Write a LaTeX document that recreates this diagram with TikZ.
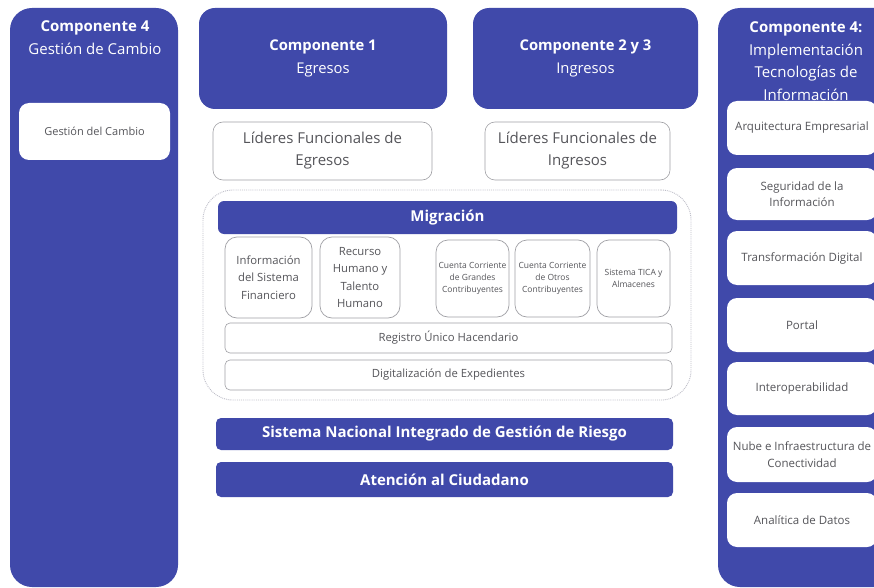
\documentclass[tikz,border=0pt]{standalone}
\usepackage{fontspec}
\setmainfont{Open Sans}
\definecolor{cblue}{RGB}{64,73,170}
\definecolor{ctext}{RGB}{85,85,90}
\definecolor{cborder}{RGB}{160,160,165}
\definecolor{cdash}{RGB}{190,190,200}
\begin{document}
\begin{tikzpicture}[x=1pt,y=-1pt,
  every node/.style={inner sep=0pt,outer sep=0pt,align=center},
  column/.style={fill=cblue,rounded corners=22pt},
  compbox/.style={fill=cblue,rounded corners=16pt,text=white,font=\fontsize{14.8}{23}\selectfont},
  colitem/.style={fill=white,rounded corners=10pt,text=ctext,font=\fontsize{11.5}{16.5}\selectfont},
  lider/.style={draw=cborder,line width=0.6pt,fill=white,rounded corners=10pt,text=ctext,font=\fontsize{15}{22}\selectfont},
  smallbox/.style={draw=cborder,line width=0.7pt,fill=white,rounded corners=12pt,text=ctext},
  wbar/.style={draw=cborder,line width=0.6pt,fill=white,rounded corners=5pt,text=ctext,font=\fontsize{11.3}{14}\selectfont},
  bbar/.style={fill=cblue,rounded corners=5pt,text=white,font=\bfseries\fontsize{15}{18}\selectfont},
  coltitle/.style={text=white,font=\fontsize{15}{22.5}\selectfont}]
\useasboundingbox (0,0) rectangle (874,588);
\fill[white] (0,0) rectangle (874,588);

% left column
\node[column,minimum width=168pt,minimum height=579pt] (colL) at (94,297.5) {};
\node[coltitle] (colLt) at (95,37.5) {\textbf{Componente 4}\\Gestión de Cambio};
\node[colitem,font=\fontsize{11}{16}\selectfont,minimum width=151pt,minimum height=57pt] (gdc) at (94.5,131.5) {Gestión del Cambio};

% right column
\node[column,minimum width=182pt,minimum height=579pt] (colR) at (809,297.5) {};
\node[coltitle] (colRt) at (806,61) {\textbf{Componente 4:}\\Implementación\\Tecnologías de\\Información};
\node[colitem,minimum width=150pt,minimum height=54pt] (arq) at (802,128) {Arquitectura Empresarial};
\node[colitem,minimum width=150pt,minimum height=52pt] (seg) at (802,194) {Seguridad de la\\Información};
\node[colitem,minimum width=150pt,minimum height=54pt] (tra) at (802,258) {Transformación Digital};
\node[colitem,minimum width=150pt,minimum height=54pt] (por) at (802,325) {Portal};
\node[colitem,minimum width=150pt,minimum height=53pt] (int) at (802,388.5) {Interoperabilidad};
\node[colitem,minimum width=150pt,minimum height=55pt] (nub) at (802,454.5) {Nube e Infraestructura de\\Conectividad};
\node[colitem,minimum width=150pt,minimum height=54pt] (ana) at (802,520) {Analítica de Datos};

% components
\node[compbox,minimum width=248pt,minimum height=101pt] (c1) at (323,58.5) {\textbf{Componente 1}\\Egresos};
\node[compbox,minimum width=225pt,minimum height=101pt] (c23) at (585.5,58.5) {\textbf{Componente 2 y 3}\\Ingresos};
\node[lider,minimum width=219pt,minimum height=58pt] (lidE) at (322.5,151) {Líderes Funcionales de\\Egresos};
\node[lider,minimum width=185pt,minimum height=58pt] (lidI) at (577.5,151) {Líderes Funcionales de\\Ingresos};

% migration region
\node[draw=cdash,densely dotted,line width=0.9pt,rounded corners=30pt,minimum width=488pt,minimum height=210pt] (reg0) at (447,295) {};
\node[bbar,rounded corners=6pt,minimum width=459pt,minimum height=33pt] (mig) at (447.5,217.5) {Migración};
\node[smallbox,minimum width=87pt,minimum height=81pt,font=\fontsize{11.3}{17.5}\selectfont] (inf) at (268.5,277.5) {Información\\del Sistema\\Financiero};
\node[smallbox,minimum width=80pt,minimum height=81pt,font=\fontsize{11.3}{17.5}\selectfont] (rec) at (360,277.5) {Recurso\\Humano y\\Talento\\Humano};
\node[smallbox,minimum width=73pt,minimum height=77pt,font=\fontsize{8.5}{11.7}\selectfont] (ccg) at (472.5,278.5) {Cuenta Corriente\\de Grandes\\Contribuyentes};
\node[smallbox,minimum width=75pt,minimum height=77pt,font=\fontsize{8.5}{11.7}\selectfont] (cco) at (552.5,278.5) {Cuenta Corriente\\de Otros\\Contribuyentes};
\node[smallbox,minimum width=73pt,minimum height=77pt,font=\fontsize{8.5}{11.7}\selectfont] (tica) at (633.5,278.5) {Sistema TICA y\\Almacenes};
\node[wbar,minimum width=447pt,minimum height=30pt] (rgu) at (448.5,338) {Registro Único Hacendario};
\node[wbar,minimum width=447pt,minimum height=30pt] (dig) at (448.5,375) {Digitalización de Expedientes};

% bottom bars
\node[bbar,minimum width=457pt,minimum height=32pt] (snig) at (444.5,434) {Sistema Nacional Integrado de Gestión de Riesgo};
\node[bbar,minimum width=457pt,minimum height=35pt] (aten) at (444.5,479.5) {Atención al Ciudadano};
\end{tikzpicture}
\end{document}
